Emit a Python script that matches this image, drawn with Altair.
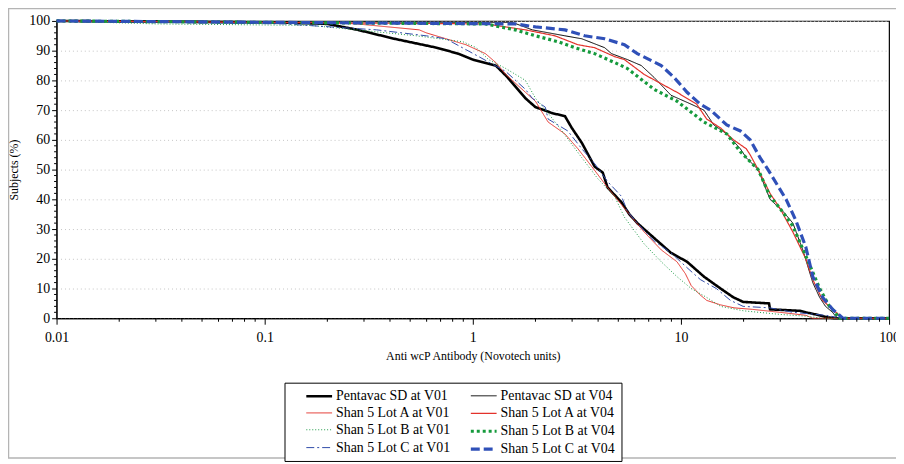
import altair as alt
import pandas as pd

# ---------------- data ----------------
series_order = [
    "Pentavac SD at V01", "Shan 5 Lot A at V01", "Shan 5 Lot B at V01", "Shan 5 Lot C at V01",
    "Pentavac SD at V04", "Shan 5 Lot A at V04", "Shan 5 Lot B at V04", "Shan 5 Lot C at V04",
]

pv01_x = [0.01, 0.12, 0.2, 0.28, 0.42, 0.67, 0.85, 1.0, 1.29, 1.47, 1.79, 2.0, 2.2, 2.4, 2.77, 2.99,
          3.34, 3.85, 4.21, 4.44, 5.18, 5.65, 6.17, 7.43, 8.96, 10.7, 12.9, 15.5, 17.9, 19.9, 26.5,
          26.8, 37.3, 39.8, 46.4, 50.7, 55, 100]
pv01_y = [100, 99.5, 99, 97, 94, 91, 89, 87, 85, 81, 74, 71, 70, 69, 68, 64,
          59, 51, 49, 44, 39, 35, 32, 27, 22, 19, 14, 10, 7, 5.5, 5,
          3, 2.5, 2, 1, 0.3, 0, 0]

pv04_x = [0.01, 1.55, 1.93, 2.77, 3.34, 4.3, 4.64, 5.53, 6.45, 7.43, 8.96, 11.2, 12.9, 14.4, 16.6,
          19.3, 20.6, 23.5, 26.8, 30.9, 34.5, 38.5, 43, 46.4, 49.5, 53.5, 55.3, 57, 100]
pv04_y = [100, 99.5, 97, 95, 94, 91, 89, 87, 85, 81, 75, 72, 70, 65, 62,
          57, 54, 50, 40, 36, 32, 23, 12, 7, 4, 2, 0.7, 0, 0]

la01_x = [0.01, 0.2, 0.277, 0.553, 0.597, 0.743, 0.927, 1.15, 1.29, 1.44, 1.79, 2.0, 2.3, 2.77, 3.2,
          3.73, 4.44, 5.35, 5.97, 6.66, 8.04, 9.57, 10.5, 11.2, 12.3, 13.3, 15.5, 18, 22, 29.9,
          39.8, 43, 100]
la01_y = [100, 99.5, 99, 97, 96, 94, 92, 89, 86, 82, 76, 73, 66, 62, 57,
          51, 44, 37, 33, 29, 23, 19, 15, 11, 8, 6, 4.5, 3.5, 3, 2,
          1, 0, 0]

la04_x = [0.01, 1.15, 1.79, 2.48, 3.2, 3.85, 4.8, 5.35, 6.66, 9.57, 11.9, 13.3, 15.5, 17.9, 20.6,
          21.5, 23.5, 26.8, 29.9, 34.5, 39.8, 43, 48, 53.5, 57.8, 59.7, 100]
la04_y = [100, 99, 97, 95, 92, 91, 88, 87, 82, 76, 72, 67, 64, 60, 57,
          55, 50, 42, 37, 29, 20, 13, 6, 3, 1, 0, 0]

lb01_x = [0.01, 0.03, 0.166, 0.385, 0.535, 0.896, 1.04, 1.19, 1.44, 1.79, 2.0, 2.3, 2.68, 3.34,
          3.98, 4.8, 5.35, 6.66, 8.04, 9.57, 11.2, 13.3, 15.5, 20, 29.9, 39.8, 48, 100]
lb01_y = [100, 99, 98.5, 96, 95, 93, 91, 87, 84, 80, 74, 69, 63, 54,
          47, 41, 34, 25, 19, 14, 10, 7, 4, 2.5, 1.3, 0.7, 0, 0]

lb04_x = [0.01, 1.15, 1.6, 2.0, 2.57, 3.09, 3.85, 4.8, 5.53, 7.43, 9.57, 12.9, 16.6, 19.3, 20.6,
          23.5, 26.8, 29.9, 34.5, 39.8, 46.4, 51.7, 55.3, 57, 100]
lb04_y = [100, 99, 97, 95, 93, 91, 89, 86, 84, 77, 73, 66, 62, 56, 54,
          50, 41, 37, 31, 21, 10, 4, 2, 0, 0]

lc01_x = [0.01, 0.124, 0.345, 0.597, 0.743, 1.068, 1.44, 1.79, 1.93, 2.23, 2.3, 2.86, 3.34, 3.85,
          4.44, 5.18, 5.53, 6.17, 7.43, 8.96, 10.7, 12.4, 14.8, 17.3, 19.9, 26.8, 34.5, 49.5, 59.7, 100]
lc01_y = [100, 99, 97, 95, 94, 88, 83, 77, 74, 71, 67, 63, 57, 52,
          46, 41, 36, 32, 26, 22, 17, 13, 10, 6, 4, 3.5, 2, 1, 0, 0]

lc04_x = [0.01, 1.6, 2.0, 2.77, 3.45, 4.3, 5.35, 6.17, 8.04, 9.27, 10.7, 12.4, 13.9, 16.6, 19.3,
          21.5, 24.0, 26.2, 32.0, 35.6, 39.8, 43, 48, 53.5, 57.8, 60, 100]
lc04_y = [100, 99, 98, 97, 95, 94, 92, 89, 85, 81, 76, 72, 70, 65, 63,
          60, 54, 50, 40, 33, 24, 14, 7, 3, 1, 0, 0]

x_major = [0.01, 0.1, 1, 10, 100]
x_minor = [m * d for d in [0.01, 0.1, 1, 10] for m in range(2, 10)]
y_major = [0, 10, 20, 30, 40, 50, 60, 70, 80, 90, 100]
y_minor = [v for v in range(0, 101, 2) if v % 10 != 0]

# ---------------- styles ----------------
colors = ["#000000", "#e3322b", "#1b9a45", "#2f4aa8", "#000000", "#e3322b", "#159a3c", "#2f50b8"]
dashes = [[1, 0], [1, 0], [1, 2], [8, 3, 2, 3], [1, 0], [1, 0], [3, 3], [9, 4]]
widths = [2.6, 1.0, 1.0, 1.0, 1.0, 1.2, 3.2, 3.2]

series_data = [
    ("Pentavac SD at V01", pv01_x, pv01_y),
    ("Shan 5 Lot A at V01", la01_x, la01_y),
    ("Shan 5 Lot B at V01", lb01_x, lb01_y),
    ("Shan 5 Lot C at V01", lc01_x, lc01_y),
    ("Pentavac SD at V04", pv04_x, pv04_y),
    ("Shan 5 Lot A at V04", la04_x, la04_y),
    ("Shan 5 Lot B at V04", lb04_x, lb04_y),
    ("Shan 5 Lot C at V04", lc04_x, lc04_y),
]
rows = []
for name, xs, ys in series_data:
    for xv, yv in zip(xs, ys):
        rows.append({"series": name, "value": xv, "pct": yv})
df = pd.DataFrame(rows)

FONT = "Liberation Serif"
x_scale = alt.Scale(type="log", domain=[0.01, 100], nice=False)
y_scale = alt.Scale(domain=[0, 100], nice=False, zero=True)

x_axis = alt.Axis(values=x_major, format="~g", title="Anti wcP Antibody (Novotech units)",
                  tickSize=6, labelPadding=6, titlePadding=7, grid=False, labelFlush=False)
y_axis = alt.Axis(values=y_major, title="Subjects (%)", tickSize=5, labelPadding=2,
                  grid=True, gridDash=[1, 3], gridColor="#c4c4c4", titlePadding=8)

legend = alt.Legend(
    title=None, orient="none", legendX=230, legendY=365, columns=2, direction="vertical",
    symbolType="M1.143,0H4.857", symbolSize=196, labelFont=FONT, labelFontSize=14,
    labelColor="black", strokeColor="black", fillColor="white", padding=5,
    rowPadding=2, columnPadding=2, labelOffset=29, symbolOpacity=1, symbolFillColor="transparent",
)

lines = alt.Chart(df).mark_line().encode(
    x=alt.X("value:Q", scale=x_scale, axis=x_axis),
    y=alt.Y("pct:Q", scale=y_scale, axis=y_axis),
    color=alt.Color("series:N", scale=alt.Scale(domain=series_order, range=colors), legend=legend),
    strokeDash=alt.StrokeDash("series:N", scale=alt.Scale(domain=series_order, range=dashes), legend=legend),
    strokeWidth=alt.StrokeWidth("series:N", scale=alt.Scale(type="ordinal", domain=series_order, range=widths), legend=legend),
)

# minor tick marks on both axes, positioned through the shared scales
minor_x = alt.Chart(pd.DataFrame({"value": x_minor})).mark_rule(color="black", strokeWidth=1).encode(
    x=alt.X("value:Q", scale=x_scale, axis=x_axis),
    y=alt.value(300), y2=alt.value(303.5),
)
minor_y = alt.Chart(pd.DataFrame({"pct": y_minor})).mark_rule(color="black", strokeWidth=1).encode(
    y=alt.Y("pct:Q", scale=y_scale, axis=y_axis),
    x=alt.value(-2.5), x2=alt.value(0),
)

frame = alt.Chart(pd.DataFrame({"k": [0]})).mark_rect(
    fill=None, stroke="#b4b4b4", strokeWidth=1.5
).encode(x=alt.value(-48.5), x2=alt.value(860), y=alt.value(-12.5), y2=alt.value(441))

chart = alt.layer(lines, minor_x, minor_y, frame).properties(
    width=840, height=300,
    autosize=alt.AutoSizeParams(type="none"),
    padding={"left": 49, "top": 11, "right": 7, "bottom": 145},
    background="white",
).configure_view(stroke="black", strokeWidth=1.2).configure_axis(
    labelFont=FONT, labelFontSize=14, labelColor="black", titleFont=FONT, titleFontSize=12,
    titleFontWeight="normal", titleColor="black", domainColor="black", tickColor="black",
)

chart.save("out.html", embed_options={"renderer": "svg", "actions": False})
